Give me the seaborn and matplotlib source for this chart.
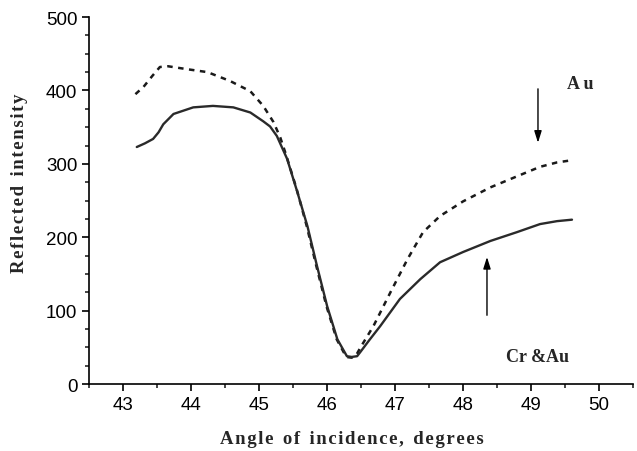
import matplotlib
matplotlib.use("Agg")
import matplotlib.pyplot as plt
import seaborn as sns
import pandas as pd
from matplotlib.ticker import MultipleLocator

au_angle = [43.18, 43.3, 43.43, 43.54, 43.66, 43.94, 44.24, 44.57, 44.87, 45.06, 45.21, 45.31,
            45.4, 45.55, 45.7, 45.84, 45.99, 46.14, 46.28, 46.36, 46.43, 46.49, 46.68, 46.93,
            47.18, 47.41, 47.66, 48.0, 48.4, 48.79, 49.13, 49.38, 49.6]
au_refl = [395, 405, 420, 432, 433, 429, 425, 413, 399, 379, 357, 336,
           311, 266, 215, 161, 106, 61, 37, 36, 40, 50, 79, 125,
           170, 207, 229, 249, 268, 283, 296, 302, 305]

cr_angle = [43.2, 43.32, 43.44, 43.52, 43.59, 43.74, 44.03, 44.32, 44.62, 44.87, 45.06, 45.16,
            45.26, 45.41, 45.56, 45.71, 45.85, 46.0, 46.15, 46.29, 46.36, 46.44, 46.49, 46.62,
            46.78, 47.07, 47.37, 47.66, 48.0, 48.4, 48.79, 49.13, 49.38, 49.6]
cr_refl = [323, 328, 334, 343, 354, 368, 377, 379, 377, 370, 358, 351,
           338, 307, 262, 215, 161, 106, 61, 38, 37, 38, 44, 60,
           79, 116, 143, 166, 180, 195, 207, 218, 222, 224]

df = pd.concat([
    pd.DataFrame({"angle": au_angle, "refl": au_refl, "film": "Au"}),
    pd.DataFrame({"angle": cr_angle, "refl": cr_refl, "film": "Cr &Au"}),
])

sns.set_style("ticks")
fig = plt.figure(figsize=(6.37, 4.52), dpi=100)
ax = fig.add_axes([0.14, 0.148, 0.854, 0.812])

sns.lineplot(data=df[df.film == "Au"], x="angle", y="refl", ax=ax,
             color="#1a1a1a", lw=1.8, linestyle=(0, (2.2, 2.2)), sort=False)
sns.lineplot(data=df[df.film == "Cr &Au"], x="angle", y="refl", ax=ax,
             color="#2a2a2a", lw=1.7, sort=False)
for ln in ax.lines:
    ln.set_solid_joinstyle("round")
    ln.set_dash_joinstyle("round")

ax.set_xlim(42.5, 50.5)
ax.set_ylim(0, 500)
ax.xaxis.set_major_locator(MultipleLocator(1))
ax.xaxis.set_minor_locator(MultipleLocator(0.5))
ax.yaxis.set_major_locator(MultipleLocator(100))
ax.yaxis.set_minor_locator(MultipleLocator(25))
ax.set_xticks(range(43, 51))
ax.tick_params(which="major", direction="out", length=5, width=1.2, labelsize=13.5, colors="black")
ax.tick_params(which="minor", direction="out", length=3, width=1.2)
for lbl in ax.get_xticklabels() + ax.get_yticklabels():
    lbl.set_fontfamily("Liberation Sans")
for s in ["top", "right"]:
    ax.spines[s].set_visible(False)
for s in ["left", "bottom"]:
    ax.spines[s].set_linewidth(1.2)
    ax.spines[s].set_color("black")


def spaced(txt):
    return "\u2002".join("\u200a".join(w) for w in txt.split(" "))


serif = dict(fontfamily="Liberation Serif", fontweight="bold", fontsize=13.5)
ax.set_xlabel(spaced("Angle of incidence, degrees"), **serif)
ax.set_ylabel(spaced("Reflected intensity"), **serif)
ax.xaxis.set_label_coords(0.482, -0.125)
ax.yaxis.set_label_coords(-0.112, 0.55)

ax.annotate("", xy=(49.1, 325), xytext=(49.1, 406),
            arrowprops=dict(arrowstyle="-|>,head_length=0.7,head_width=0.22", color="black", lw=1.0))
ax.annotate("", xy=(48.35, 177), xytext=(48.35, 90),
            arrowprops=dict(arrowstyle="-|>,head_length=0.7,head_width=0.22", color="black", lw=1.0))
ax.text(49.72, 410, "A u", ha="center", va="center", fontfamily="Liberation Serif", fontweight="bold", fontsize=13)
ax.text(49.1, 38, "Cr &Au", ha="center", va="center", fontfamily="Liberation Serif", fontweight="bold", fontsize=13)

fig.savefig("out.png", dpi=100)
